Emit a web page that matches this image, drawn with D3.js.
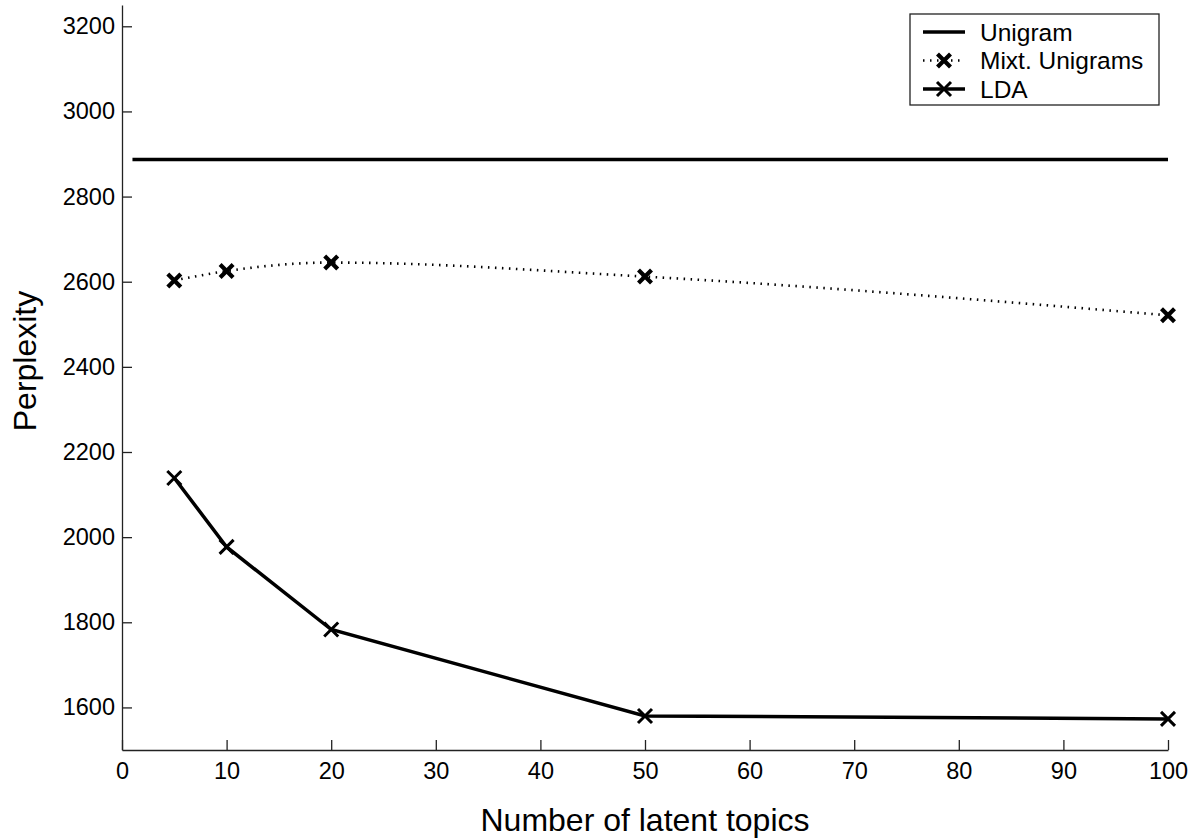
<!DOCTYPE html>
<html>
<head>
<meta charset="utf-8">
<script src="https://cdn.jsdelivr.net/npm/d3@7"></script>
<style>
  body { margin: 0; background: #fff; }
  svg { font-family: "Liberation Sans", Arial, sans-serif; }
  .axis path, .axis line { stroke: #222; stroke-width: 1.3; }
  .axis text { font-size: 23.5px; fill: #000; font-family: "Liberation Sans", Arial, sans-serif; }
</style>
</head>
<body>
<svg width="1200" height="839"></svg>
<script>
// data
var topics = [5, 10, 20, 50, 100];
var unigram = [{x: 1, y: 2887}, {x: 100, y: 2887}];
var mixtUnigrams = [2603, 2625, 2645, 2612, 2521];
var lda = [2139, 1977, 1783, 1580, 1573];
var xTicks = [0, 10, 20, 30, 40, 50, 60, 70, 80, 90, 100];
var yTicks = [1600, 1800, 2000, 2200, 2400, 2600, 2800, 3000, 3200];
var legendNames = ["Unigram", "Mixt. Unigrams", "LDA"];

var svg = d3.select("svg"),
    margin = {top: 5, right: 32, bottom: 89, left: 122},
    width = +svg.attr("width") - margin.left - margin.right,
    height = +svg.attr("height") - margin.top - margin.bottom;

var x = d3.scaleLinear().domain([0, 100]).range([0, width]),
    y = d3.scaleLinear().domain([1500, 3250]).range([height, 0]);

var g = svg.append("g")
    .attr("transform", "translate(" + margin.left + "," + margin.top + ")");

g.append("g")
    .attr("class", "axis axis--x")
    .attr("transform", "translate(0," + height + ")")
    .call(d3.axisBottom(x).tickValues(xTicks).tickFormat(d3.format("d"))
      .tickSizeInner(-10).tickSizeOuter(0).tickPadding(12));

g.append("g")
    .attr("class", "axis axis--y")
    .call(d3.axisLeft(y).tickValues(yTicks).tickFormat(d3.format("d"))
      .tickSizeInner(-10).tickSizeOuter(0).tickPadding(7));

var line = d3.line()
    .x(function(d) { return x(d.x); })
    .y(function(d) { return y(d.y); });

var mixtData = topics.map(function(t, i) { return {x: t, y: mixtUnigrams[i]}; }),
    ldaData = topics.map(function(t, i) { return {x: t, y: lda[i]}; });

g.append("path")
    .datum(unigram)
    .attr("fill", "none").attr("stroke", "#000").attr("stroke-width", 3.5)
    .attr("d", line);

g.append("path")
    .datum(mixtData)
    .attr("fill", "none").attr("stroke", "#000").attr("stroke-width", 2.6)
    .attr("stroke-dasharray", "1.5,5.5")
    .attr("d", d3.line().x(function(d) { return x(d.x); }).y(function(d) { return y(d.y); }).curve(d3.curveMonotoneX));

g.append("path")
    .datum(ldaData)
    .attr("fill", "none").attr("stroke", "#000").attr("stroke-width", 3.5)
    .attr("d", line);

function cross(sel, s, w) {
  sel.append("path")
    .attr("d", "M" + (-s) + "," + (-s) + "L" + s + "," + s + "M" + (-s) + "," + s + "L" + s + "," + (-s))
    .attr("stroke", "#000").attr("stroke-width", w).attr("fill", "none");
}

g.selectAll(".mk-mixt")
    .data(mixtData)
    .enter().append("g")
      .attr("class", "mk-mixt")
      .attr("transform", function(d) { return "translate(" + x(d.x) + "," + y(d.y) + ")"; })
      .each(function() { cross(d3.select(this), 6.5, 4.2); });

g.selectAll(".mk-lda")
    .data(ldaData)
    .enter().append("g")
      .attr("class", "mk-lda")
      .attr("transform", function(d) { return "translate(" + x(d.x) + "," + y(d.y) + ")"; })
      .each(function() { cross(d3.select(this), 7, 3); });

// axis titles
svg.append("text")
    .attr("x", margin.left + width / 2)
    .attr("y", 831)
    .attr("text-anchor", "middle")
    .style("font-size", "32px")
    .text("Number of latent topics");

svg.append("text")
    .attr("transform", "translate(36,361) rotate(-90)")
    .attr("text-anchor", "middle")
    .style("font-size", "32px")
    .text("Perplexity");

// legend
var legend = svg.append("g").attr("transform", "translate(910,14)");
legend.append("rect")
    .attr("width", 249).attr("height", 91)
    .attr("fill", "#fff").attr("stroke", "#222").attr("stroke-width", 1.3);

var rows = legend.selectAll(".row")
    .data(legendNames)
    .enter().append("g")
      .attr("class", "row")
      .attr("transform", function(d, i) { return "translate(0," + (18 + i * 28.5) + ")"; });

rows.append("line")
    .attr("x1", 13).attr("x2", 55)
    .attr("stroke", "#000")
    .attr("stroke-width", function(d, i) { return i == 1 ? 2.6 : 3.5; })
    .attr("stroke-dasharray", function(d, i) { return i == 1 ? "1.5,5.5" : null; });

rows.filter(function(d, i) { return i > 0; })
    .each(function(d, i) { cross(d3.select(this).append("g").attr("transform", "translate(34,0)"), i == 0 ? 6.5 : 7, i == 0 ? 4.2 : 3); });

rows.append("text")
    .attr("x", 70)
    .attr("dy", "0.36em")
    .style("font-size", "24.5px")
    .text(function(d) { return d; });
</script>
</body>
</html>
